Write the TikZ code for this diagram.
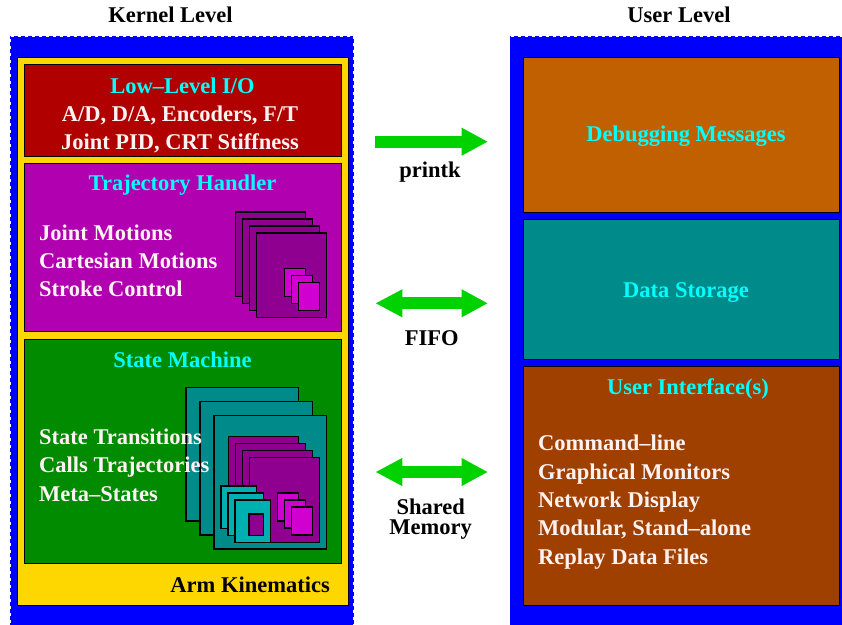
\documentclass[tikz,border=0pt]{standalone}
\usepackage{fontspec}
\setmainfont{Liberation Serif}
\usetikzlibrary{arrows.meta}
\definecolor{panelblue}{RGB}{0,0,255}
\definecolor{kyellow}{RGB}{255,215,0}
\definecolor{iored}{RGB}{176,0,0}
\definecolor{trajmag}{RGB}{176,0,176}
\definecolor{purpD}{RGB}{144,0,144}
\definecolor{magB}{RGB}{208,0,208}
\definecolor{smgreen}{RGB}{0,139,0}
\definecolor{tealA}{RGB}{0,139,139}
\definecolor{tealB}{RGB}{0,176,176}
\definecolor{dbgorange}{RGB}{192,96,0}
\definecolor{uibrown}{RGB}{160,64,0}
\definecolor{ttlcyan}{RGB}{0,255,255}
\definecolor{txtwhite}{RGB}{255,242,242}
\definecolor{agreen}{RGB}{0,210,0}
\newcommand\mytrajicon{%
  \foreach \k in {0,...,3} {\draw[icon, fill=purpD] ({7*\k},{7*\k}) rectangle ++(70.5,84.5);}
  \foreach \k in {0,1,2} {\draw[icon, fill=magB] ({49+7*\k},{56.3+7*\k}) rectangle ++(21.4,28);}
}
\begin{document}
\begin{tikzpicture}[x=1pt,y=-1pt,
  box/.style={draw=black, line width=0.9pt},
  icon/.style={draw=black, line width=1.1pt},
  ttl/.style={text=ttlcyan, font=\fontsize{22.5}{27}\selectfont\bfseries, inner sep=0pt, anchor=base},
  txt/.style={text=txtwhite, font=\fontsize{22.5}{27}\selectfont\bfseries, inner sep=0pt, anchor=base west},
  lbl/.style={text=black, font=\fontsize{22.5}{27}\selectfont\bfseries, inner sep=0pt, anchor=base},
  panel/.style={fill=panelblue},
  paneledge/.style={draw=white, line width=1.6pt, dash pattern=on 3pt off 4pt},
  bigarrow/.style={draw=agreen, line width=12pt, line cap=butt},
  headR/.style={-{Triangle[length=26.3pt,width=26pt]}},
  headLR/.style={{Triangle[length=27pt,width=26pt]}-{Triangle[length=26.3pt,width=26pt]}}
]
\useasboundingbox (0,0) rectangle (842,624);
% titles
\node[lbl] (kl) at (170.5,22) {Kernel Level};
\node[lbl] (ul) at (679,22) {User Level};
% panels
\fill[panel] (10,36) rectangle (354,630);
\draw[paneledge] (10,630) -- (10,36) -- (354,36) -- (354,630);
\fill[panel] (509.5,36) rectangle (850,630);
\draw[paneledge] (509.5,630) -- (509.5,36) -- (850,36);
% kernel yellow
\draw[box, fill=kyellow] (17,57) rectangle (348,605);
% low-level io
\draw[box, fill=iored] (24,64) rectangle (341,156);
\node[ttl] (io) at (182.5,93) {Low–Level I/O};
\node[lbl, text=txtwhite] (io1) at (180,121) {A/D, D/A, Encoders, F/T};
\node[lbl, text=txtwhite] (io2) at (180,149) {Joint PID, CRT Stiffness};
% trajectory
\draw[box, fill=trajmag] (24,163) rectangle (341,331.5);
\node[ttl] (tr) at (182.5,190) {Trajectory Handler};
\node[txt] (tr1) at (39,240) {Joint Motions};
\node[txt] (tr2) at (39,268.3) {Cartesian Motions};
\node[txt] (tr3) at (39,296.7) {Stroke Control};
\begin{scope}[shift={(235.3,212)}]
  \mytrajicon
\end{scope}
% state machine
\draw[box, fill=smgreen] (24,339) rectangle (341,563);
\node[ttl] (sm) at (182.5,367.5) {State Machine};
\foreach \k in {0,1,2} {\draw[icon, fill=tealA] ({186+14*\k},{387.7+14*\k}) rectangle ++(112.3,133.3);}
\begin{scope}[shift={(228.3,436.7)}]
  \mytrajicon
\end{scope}
\foreach \k in {0,1,2} {\draw[icon, fill=tealB] ({221+7*\k},{486+7*\k}) rectangle ++(35.5,42.3);}
\draw[icon, fill=purpD] (249,514) rectangle (263.7,535.3);
\node[txt] (sm1) at (39,444.5) {State Transitions};
\node[txt] (sm2) at (39,472.8) {Calls Trajectories};
\node[txt] (sm3) at (39,501) {Meta–States};
\node[lbl, anchor=base east] (ak) at (330,592) {Arm Kinematics};
% user level boxes
\draw[box, fill=dbgorange] (523.3,57.3) rectangle (839.3,212.3);
\node[ttl] (dbg) at (686,141.7) {Debugging Messages};
\draw[box, fill=tealA] (523.3,219.3) rectangle (839.3,359.3);
\node[ttl] (ds) at (686,297.5) {Data Storage};
\draw[box, fill=uibrown] (523.3,366.7) rectangle (839.3,605);
\node[ttl] (ui) at (688,394.5) {User Interface(s)};
\node[txt] (ui1) at (538,450.8) {Command–line};
\node[txt] (ui2) at (538,479.1) {Graphical Monitors};
\node[txt] (ui3) at (538,507.4) {Network Display};
\node[txt] (ui4) at (538,535.7) {Modular, Stand–alone};
\node[txt] (ui5) at (538,564) {Replay Data Files};
% arrows
\coordinate (pa) at (375.3,141.7);
\coordinate (pb) at (488,141.7);
\draw[bigarrow, headR] (pa) -- (pb);
\node[lbl] (pk) at (430,177.3) {printk};
\coordinate (fa) at (375.3,303.3);
\coordinate (fb) at (488,303.3);
\draw[bigarrow, headLR] (fa) -- (fb);
\node[lbl] (ff) at (431.7,345.7) {FIFO};
\coordinate (sa) at (375.3,472);
\coordinate (sb) at (488,472);
\draw[bigarrow, headLR] (sa) -- (sb);
\node[lbl, anchor=north, align=center, font=\fontsize{22.5}{20.5}\selectfont\bfseries] (sh) at (430.7,498.5) {Shared\\Memory};
\end{tikzpicture}
\end{document}
